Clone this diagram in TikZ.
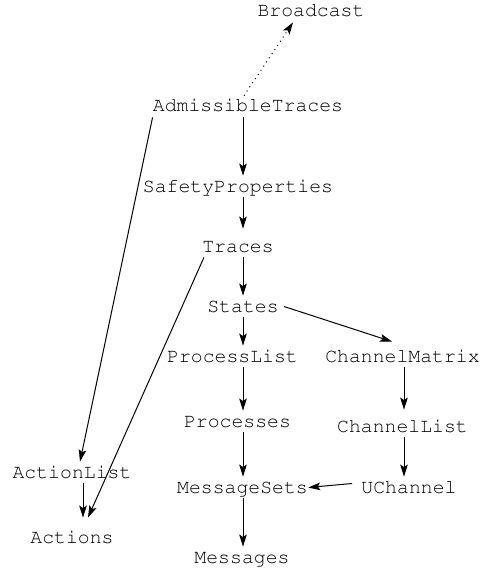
\documentclass[tikz,border=0pt]{standalone}
\usepackage[T1]{fontenc}
\usetikzlibrary{arrows.meta}
\begin{document}
\begin{tikzpicture}[x=0.5pt,y=-0.5pt,
  lbl/.style={font=\fontencoding{T1}\fontfamily{pcr}\fontsize{9.9}{12}\selectfont, inner xsep=0pt, inner ysep=2.5pt,
              text height=5.5pt, text depth=0pt, anchor=base},
  arr/.style={line width=0.5pt, -{Stealth[length=6pt,width=3.8pt,inset=1.2pt]}},
  dotarr/.style={arr, dotted},
]
\useasboundingbox (0,0) rectangle (483,572);
% column references
\coordinate (axis) at (243,0);
\coordinate (axisr) at (404,0);
\coordinate (axisl) at (83,0);
% nodes
\node[lbl] (bc)   at (311,17)  {Broadcast};
\node[lbl] (adm)  at (248,112) {AdmissibleTraces};
\node[lbl] (sp)   at (238,192) {SafetyProperties};
\node[lbl] (tr)   at (238,252) {Traces};
\node[lbl] (st)   at (243,312) {States};
\node[lbl] (pl)   at (232.5,362) {ProcessList};
\node[lbl] (cm)   at (402.5,362) {ChannelMatrix};
\node[lbl] (pr)   at (237.5,427) {Processes};
\node[lbl] (cl)   at (402.5,432) {ChannelList};
\node[lbl] (ms)   at (242.5,493) {MessageSets};
\node[lbl] (uc)   at (409,493) {UChannel};
\node[lbl] (al)   at (72,478)  {ActionList};
\node[lbl] (ac)   at (72,543)  {Actions};
\node[lbl] (msg)  at (242,563) {Messages};
% edges
\draw[dotarr] ([xshift=-2pt]adm.north) -- ([xshift=-9pt]bc.south);
\draw[arr] (adm.south -| axis) -- (sp.north -| axis);
\draw[arr] (adm.south west) -- ([xshift=4pt]al.north);
\draw[arr, shorten >=3.5pt] (sp.south -| axis) -- (tr.north -| axis);
\draw[arr] ([xshift=1pt]tr.south west) -- ([xshift=8pt,yshift=4.5pt]ac.north);
\draw[arr] (tr.south -| axis) -- (st.north -| axis);
\draw[arr] ([xshift=2.5pt]st.east) -- ([xshift=-5.25pt,yshift=2pt]cm.north);
\draw[arr] (st.south -| axis) -- (pl.north -| axis);
\draw[arr] (pl.south -| axis) -- (pr.north -| axis);
\draw[arr] (pr.south -| axis) -- (ms.north -| axis);
\draw[arr] (ms.south -| axis) -- (msg.north -| axis);
\draw[arr, shorten >=3pt] (cm.south -| axisr) -- (cl.north -| axisr);
\draw[arr] (cl.south -| axisr) -- (uc.north -| axisr);
\draw[arr] ([xshift=-4.5pt,yshift=2pt]uc.west) -- (ms.east);
\draw[arr, shorten >=4.5pt] (al.south -| axisl) -- (ac.north -| axisl);
\end{tikzpicture}
\end{document}
